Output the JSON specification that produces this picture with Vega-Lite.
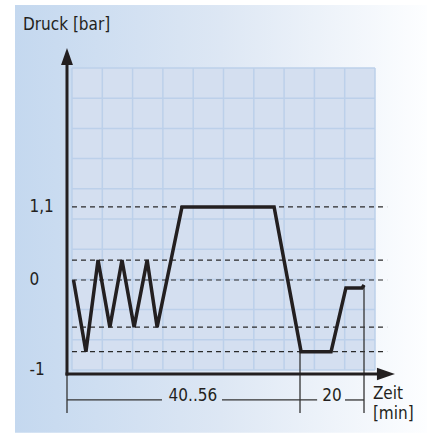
{
  "$schema": "https://vega.github.io/schema/vega-lite/v6.json",
  "width": 427,
  "height": 440,
  "padding": 0,
  "autosize": {"type": "none"},
  "background": "#ffffff",
  "config": {"view": {"stroke": null}},
  "datasets": {
    "panel": [{"u": -1.881, "v": 4.142, "u2": 11.716, "v2": -2.3}],
    "gridarea": [{"u": 0, "v": -1.355, "u2": 10, "v2": 3.193}],
    "gridlines": [
      {"u": 0, "v": -1.355, "u2": 0, "v2": 3.193},
      {"u": 1, "v": -1.355, "u2": 1, "v2": 3.193},
      {"u": 2, "v": -1.355, "u2": 2, "v2": 3.193},
      {"u": 3, "v": -1.355, "u2": 3, "v2": 3.193},
      {"u": 4, "v": -1.355, "u2": 4, "v2": 3.193},
      {"u": 5, "v": -1.355, "u2": 5, "v2": 3.193},
      {"u": 6, "v": -1.355, "u2": 6, "v2": 3.193},
      {"u": 7, "v": -1.355, "u2": 7, "v2": 3.193},
      {"u": 8, "v": -1.355, "u2": 8, "v2": 3.193},
      {"u": 9, "v": -1.355, "u2": 9, "v2": 3.193},
      {"u": 10, "v": -1.355, "u2": 10, "v2": 3.193},
      {"u": 0, "v": -1.355, "u2": 10, "v2": -1.355},
      {"u": 0, "v": -0.9, "u2": 10, "v2": -0.9},
      {"u": 0, "v": -0.446, "u2": 10, "v2": -0.446},
      {"u": 0, "v": 0.009, "u2": 10, "v2": 0.009},
      {"u": 0, "v": 0.464, "u2": 10, "v2": 0.464},
      {"u": 0, "v": 0.919, "u2": 10, "v2": 0.919},
      {"u": 0, "v": 1.374, "u2": 10, "v2": 1.374},
      {"u": 0, "v": 1.828, "u2": 10, "v2": 1.828},
      {"u": 0, "v": 2.283, "u2": 10, "v2": 2.283},
      {"u": 0, "v": 2.738, "u2": 10, "v2": 2.738},
      {"u": 0, "v": 3.193, "u2": 10, "v2": 3.193}
    ],
    "dashed": [
      {"u": 0, "v": 1.1, "u2": 10.4, "v2": 1.1},
      {"u": 0, "v": 0.3, "u2": 10.4, "v2": 0.3},
      {"u": 0, "v": 0, "u2": 10.4, "v2": 0},
      {"u": 0, "v": -0.71, "u2": 10.4, "v2": -0.71},
      {"u": 0, "v": -1.08, "u2": 10.4, "v2": -1.08}
    ],
    "dims": [
      {"u": -0.165, "v": -1.416, "u2": -0.165, "v2": -2.003},
      {"u": -0.165, "v": -1.807, "u2": 2.97, "v2": -1.807},
      {"u": 4.95, "v": -1.807, "u2": 8.09, "v2": -1.807},
      {"u": 9.01, "v": -1.807, "u2": 9.637, "v2": -1.807},
      {"u": 7.525, "v": -1.084, "u2": 7.525, "v2": -2.003},
      {"u": 9.637, "v": -0.075, "u2": 9.637, "v2": -2.003}
    ],
    "druck": [
      {"i": 0, "u": 0.05, "v": 0.0},
      {"i": 1, "u": 0.46, "v": -1.08},
      {"i": 2, "u": 0.86, "v": 0.3},
      {"i": 3, "u": 1.25, "v": -0.71},
      {"i": 4, "u": 1.65, "v": 0.3},
      {"i": 5, "u": 2.05, "v": -0.71},
      {"i": 6, "u": 2.48, "v": 0.3},
      {"i": 7, "u": 2.81, "v": -0.71},
      {"i": 8, "u": 3.63, "v": 1.1},
      {"i": 9, "u": 6.67, "v": 1.1},
      {"i": 10, "u": 7.56, "v": -1.08},
      {"i": 11, "u": 8.55, "v": -1.08},
      {"i": 12, "u": 9.04, "v": -0.12},
      {"i": 13, "u": 9.57, "v": -0.12},
      {"i": 14, "u": 9.64, "v": -0.075}
    ],
    "axes": [
      {"u": -0.165, "v": -1.438, "u2": -0.165, "v2": 3.313},
      {"u": -0.215, "v": -1.416, "u2": 10.2, "v2": -1.416}
    ],
    "arrowUp": [{"u": -0.165, "v": 3.366}],
    "arrowRight": [{"u": 10.36, "v": -1.416}],
    "labelsCenter": [
      {"u": 3.99, "v": -1.747, "t": "40..56"},
      {"u": 8.58, "v": -1.747, "t": "20"}
    ],
    "labelsLeft": [
      {"u": 9.93, "v": -1.717, "t": "Zeit"},
      {"u": 9.93, "v": -2.018, "t": "[min]"},
      {"u": -1.617, "v": 3.84, "t": "Druck [bar]"}
    ]
  },
  "encoding": {
    "x": {"field": "u", "type": "quantitative", "scale": {"domain": [-2.376, 11.716], "nice": false, "zero": false}, "axis": null},
    "y": {
      "field": "v", "type": "quantitative",
      "scale": {"domain": [-2.41, 4.217], "nice": false, "zero": false},
      "axis": {
        "title": null, "values": [1.1, 0, -1.355],
        "labelExpr": "datum.value > 1 ? '1,1' : (datum.value > -0.5 ? '0' : '-1')",
        "domain": false, "ticks": false, "tickSize": 0, "grid": false,
        "offset": -67, "labelAlign": "left", "labelPadding": 38,
        "labelFont": "'Liberation Sans Narrow', 'DejaVu Sans Condensed', Roboto, sans-serif", "labelFontSize": 17, "labelColor": "#231f20",
        "labelBaseline": "middle", "labelFlush": false, "labelOverlap": false, "zindex": 2
      }
    }
  },
  "layer": [
    {
      "data": {"name": "panel"},
      "mark": {"type": "rect", "fill": {"gradient": "linear", "x1": 0, "y1": 0, "x2": 1, "y2": 0, "stops": [{"offset": 0, "color": "#c4d8ef"}, {"offset": 0.5, "color": "#dde7f4"}, {"offset": 1, "color": "#fdfeff"}]}},
      "encoding": {"x2": {"field": "u2"}, "y2": {"field": "v2"}}
    },
    {
      "data": {"name": "gridarea"},
      "mark": {"type": "rect", "fill": "#d4dff0"},
      "encoding": {"x2": {"field": "u2"}, "y2": {"field": "v2"}}
    },
    {
      "data": {"name": "gridlines"},
      "mark": {"type": "rule", "stroke": "#bcd0ea", "strokeWidth": 1.5},
      "encoding": {"x2": {"field": "u2"}, "y2": {"field": "v2"}}
    },
    {
      "data": {"name": "dashed"},
      "mark": {"type": "rule", "stroke": "#2a2a2a", "strokeWidth": 1.2, "strokeDash": [5, 4]},
      "encoding": {"x2": {"field": "u2"}, "y2": {"field": "v2"}}
    },
    {
      "data": {"name": "dims"},
      "mark": {"type": "rule", "stroke": "#333333", "strokeWidth": 1.3},
      "encoding": {"x2": {"field": "u2"}, "y2": {"field": "v2"}}
    },
    {
      "data": {"name": "druck"},
      "mark": {"type": "line", "stroke": "#231f20", "strokeWidth": 3.5, "strokeJoin": "miter", "strokeCap": "butt"},
      "encoding": {"order": {"field": "i", "type": "quantitative"}}
    },
    {
      "data": {"name": "axes"},
      "mark": {"type": "rule", "stroke": "#231f20", "strokeWidth": 3},
      "encoding": {"x2": {"field": "u2"}, "y2": {"field": "v2"}}
    },
    {
      "data": {"name": "arrowUp"},
      "mark": {"type": "point", "shape": "M0,-1L0.7,1L-0.7,1Z", "size": 289, "filled": true, "fill": "#231f20", "opacity": 1, "strokeWidth": 0}
    },
    {
      "data": {"name": "arrowRight"},
      "mark": {"type": "point", "shape": "M1,0L-1,-0.7L-1,0.7Z", "size": 324, "filled": true, "fill": "#231f20", "opacity": 1, "strokeWidth": 0}
    },
    {
      "data": {"name": "labelsCenter"},
      "mark": {"type": "text", "align": "center", "baseline": "middle", "font": "'Liberation Sans Narrow', 'DejaVu Sans Condensed', Roboto, sans-serif", "fontSize": 17, "fill": "#231f20"},
      "encoding": {"text": {"field": "t"}}
    },
    {
      "data": {"name": "labelsLeft"},
      "mark": {"type": "text", "align": "left", "baseline": "middle", "font": "'Liberation Sans Narrow', 'DejaVu Sans Condensed', Roboto, sans-serif", "fontSize": 17, "fill": "#231f20"},
      "encoding": {"text": {"field": "t"}}
    }
  ]
}
